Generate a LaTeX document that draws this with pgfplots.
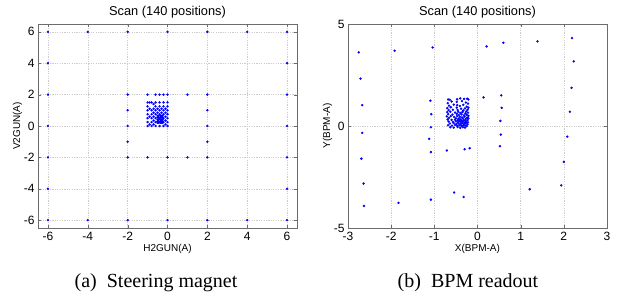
\documentclass[border=0pt]{standalone}
\usepackage{pgfplots}
\pgfplotsset{compat=1.18}
\usepackage{fontspec}
\setmainfont{Liberation Sans}
\newfontfamily\capfont{Liberation Serif}

\pgfplotsset{
 mystyle/.style={
  scale only axis, width=259pt, height=204pt,
  axis line style={gray!85!black},
  tick style={gray!85!black}, major tick length=3pt,
  grid=major, grid style={gray!40, dash pattern=on 1.2pt off 1.2pt, line width=0.45pt},
  /pgf/number format/assume math mode=true,
  tick label style={font=\fontsize{12}{14}\selectfont},
  label style={font=\fontsize{12}{14}\selectfont},
  every axis title shift=0pt,
  title style={font=\fontsize{12.8}{15}\selectfont, at={(0.5,1)}, anchor=base, yshift=9pt},
  xticklabel style={anchor=base, yshift=-12.5pt},
  every axis y label/.style={at={(axis description cs:-0.079,0.5)}, rotate=90, anchor=center},
  every axis x label/.style={at={(axis description cs:0.5,-0.116)}, anchor=base},
 },
 dots/.style={only marks, mark=*, mark size=1.0pt, color=blue, mark options={draw=blue, fill=blue}},
}

\begin{document}
\begin{tikzpicture}
\useasboundingbox (0pt,0pt) rectangle (622pt,295pt);

\begin{axis}[mystyle, at={(38pt,67pt)}, anchor=south west,
  xmin=-6.5, xmax=6.5, ymin=-6.5, ymax=6.5,
  xtick={-6,-4,-2,0,2,4,6}, ytick={-6,-4,-2,0,2,4,6},
  title={Scan (140 positions)}, xlabel={H2GUN(A)}, ylabel={V2GUN(A)}]
\addplot[dots] coordinates {
(-6,6)(-4,6)(-2,6)(0,6)(2,6)(4,6)(6,6)
(-6,4)(6,4)
(-6,2)(-2,2)(1,2)(2,2)(6,2)
(-2,1)(2,1)
(-6,0)(-2,0)(2,0)(6,0)
(-2,-1)(2,-1)
(-6,-2)(-2,-2)(-1,-2)(0,-2)(1,-2)(2,-2)(6,-2)
(-6,-4)(6,-4)
(-6,-6)(-4,-6)(-2,-6)(0,-6)(2,-6)(4,-6)(6,-6)
};
\addplot[dots] coordinates {
(-1,2)(-0.6,2)(-0.4,2)(-0.2,2)(0,2)
(-1,1.5)(-0.8,1.5)(-0.6,1.5)(-0.4,1.5)(-0.2,1.5)(0,1.5)
(-1,1.25)(-0.6,1.25)(-0.4,1.25)(-0.2,1.25)(0,1.25)
(-1,1)(-0.8,1)(-0.6,1)(-0.4,1)(-0.2,1)(0,1)
(-1,0.75)(-0.8,0.75)(-0.6,0.75)(-0.4,0.75)(-0.2,0.75)(0,0.75)
(-1,0.5)(-0.8,0.5)(-0.6,0.5)(-0.4,0.5)(-0.2,0.5)(0,0.5)
(-1,0.25)(-0.8,0.25)(-0.6,0.25)(-0.4,0.25)(-0.2,0.25)(0,0.25)
(-1,0)(-0.8,0)(-0.6,0)(-0.4,0)(-0.2,0)(0,0)
(-0.7,0.1)(-0.7,0.35)(-0.7,0.6)(-0.7,0.85)(-0.7,1.1)(-0.7,1.4)
(-0.9,0.1)(-0.9,0.6)(-0.9,1.1)(-0.9,1.5)
(-0.1,0.1)(-0.1,0.35)(-0.1,0.6)(-0.1,0.85)(-0.1,1.1)
(-0.5,0.2)(-0.45,0.2)(-0.35,0.2)(-0.3,0.2)(-0.25,0.2)
(-0.5,0.3)(-0.45,0.3)(-0.35,0.3)(-0.3,0.3)(-0.25,0.3)
(-0.5,0.4)(-0.45,0.4)(-0.35,0.4)(-0.3,0.4)(-0.25,0.4)
(-0.5,0.55)(-0.45,0.55)(-0.35,0.55)(-0.3,0.55)(-0.25,0.55)
(-0.5,0.65)(-0.45,0.65)(-0.35,0.65)(-0.3,0.65)(-0.25,0.65)
(-0.5,0.85)(-0.3,0.85)(-0.5,1.1)(-0.3,1.1)
};
\end{axis}

\begin{axis}[mystyle, at={(348pt,67pt)}, anchor=south west,
  xmin=-3, xmax=3, ymin=-5, ymax=5,
  xtick={-3,-2,-1,0,1,2,3}, ytick={-5,0,5},
  title={Scan (140 positions)}, xlabel={X(BPM-A)}, ylabel={Y(BPM-A)}]
\addplot[dots] coordinates {
(-2.75,3.61)(-2.71,2.32)(-2.67,1.02)(-2.67,-0.34)(-2.69,-1.60)(-2.64,-2.82)(-2.63,-3.92)
(-1.92,3.69)(-1.83,-3.77)
(-1.04,3.85)(-1.09,1.24)(-1.07,0.58)(-1.08,-0.06)(-1.12,-0.63)(-1.08,-1.28)(-1.08,-3.61)
(-0.71,-1.20)(-0.54,-3.26)(-0.32,-3.48)(-0.30,-1.14)(-0.18,-1.09)
(0.14,1.40)(0.21,3.90)(0.60,4.08)(0.55,1.50)(0.56,0.89)(0.53,0.25)(0.54,-0.42)(0.52,-0.99)
(1.39,4.15)(1.21,-3.10)
(1.94,-2.91)(2.00,-1.76)(2.08,-0.52)(2.14,0.70)(2.18,1.87)(2.23,3.17)(2.19,4.31)
};
\addplot[dots] coordinates {
(-0.68,1.30)(-0.64,1.29)(-0.47,1.31)(-0.40,1.35)(-0.31,1.33)(-0.24,1.34)(-0.21,1.30)
(-0.69,1.12)(-0.60,1.20)(-0.48,1.18)(-0.36,1.22)(-0.27,1.15)(-0.22,1.10)
(-0.66,1.00)(-0.55,1.05)(-0.47,1.02)(-0.41,0.98)(-0.33,1.04)(-0.25,0.95)(-0.21,0.90)
(-0.70,0.88)(-0.62,0.92)(-0.48,0.90)(-0.38,0.85)(-0.29,0.86)(-0.23,0.80)
(-0.67,0.78)(-0.57,0.80)(-0.46,0.78)(-0.33,0.76)(-0.26,0.72)
(-0.70,0.68)(-0.63,0.70)(-0.52,0.66)(-0.45,0.70)(-0.40,0.64)(-0.35,0.68)(-0.28,0.62)(-0.22,0.66)
(-0.68,0.58)(-0.58,0.56)(-0.48,0.60)(-0.43,0.54)(-0.37,0.57)(-0.31,0.52)(-0.25,0.55)(-0.21,0.50)
(-0.71,0.47)(-0.62,0.48)(-0.54,0.44)(-0.47,0.49)(-0.41,0.45)(-0.36,0.42)(-0.30,0.46)(-0.24,0.41)
(-0.66,0.40)(-0.50,0.38)(-0.44,0.36)(-0.34,0.38)(-0.27,0.35)(-0.21,0.37)
(-0.69,0.32)(-0.60,0.30)(-0.52,0.31)(-0.46,0.28)(-0.40,0.32)(-0.37,0.27)(-0.32,0.30)(-0.28,0.26)(-0.23,0.29)
(-0.67,0.22)(-0.57,0.20)(-0.50,0.23)(-0.45,0.18)(-0.42,0.24)(-0.38,0.19)(-0.34,0.22)(-0.30,0.17)(-0.26,0.21)(-0.22,0.18)
(-0.64,0.12)(-0.55,0.14)(-0.49,0.10)(-0.44,0.13)(-0.39,0.09)(-0.35,0.14)(-0.31,0.10)(-0.27,0.12)(-0.23,0.08)
(-0.68,0.04)(-0.59,0.02)(-0.52,0.05)(-0.47,0.01)(-0.42,0.04)(-0.37,0.00)(-0.33,0.03)(-0.29,0.02)(-0.25,-0.01)
(-0.63,-0.06)(-0.55,-0.08)(-0.46,-0.05)(-0.40,-0.09)(-0.34,-0.06)(-0.29,-0.08)
};
\end{axis}

\node[anchor=base, font=\capfont\fontsize{20}{24}\selectfont] at (156pt,7.3pt) {(a)\enspace Steering magnet};
\node[anchor=base, font=\capfont\fontsize{20}{24}\selectfont] at (468pt,7.3pt) {(b)\enspace BPM readout};
\end{tikzpicture}
\end{document}
